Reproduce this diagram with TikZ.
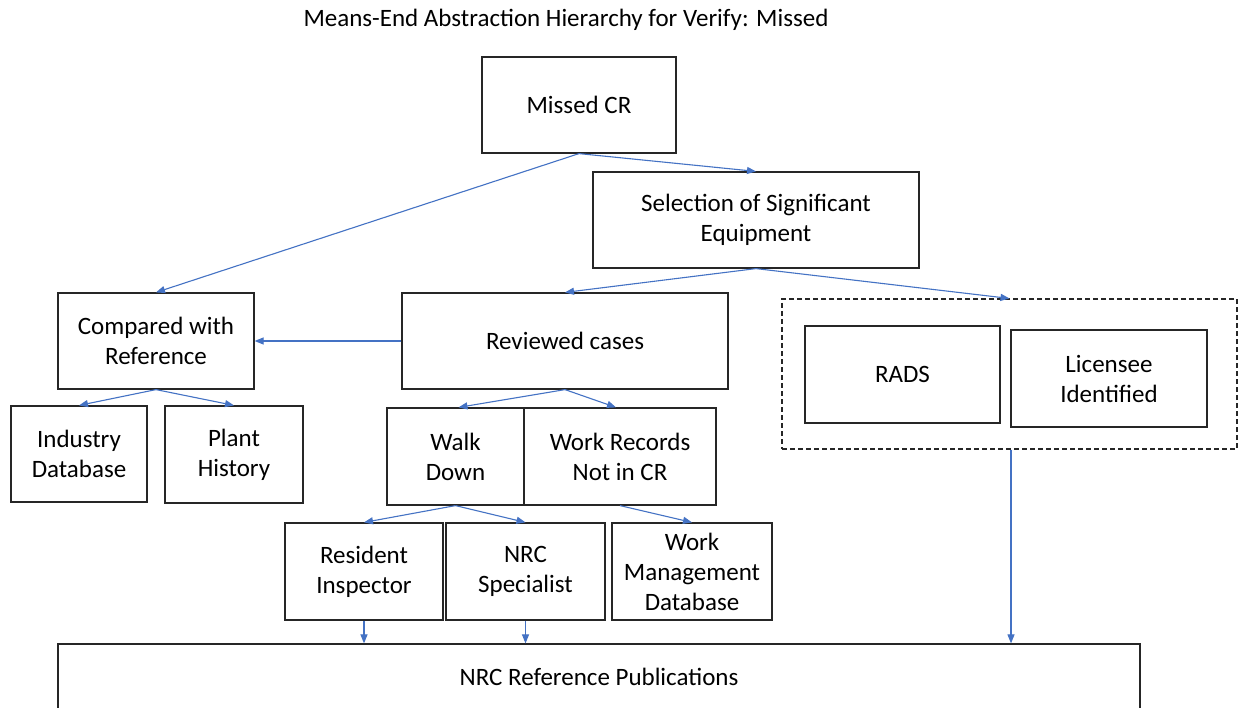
\documentclass[tikz,border=0pt]{standalone}
\usepackage{fontspec}
\setmainfont{Carlito}
\usetikzlibrary{arrows.meta}
\definecolor{linkblue}{HTML}{4472C4}
\definecolor{boxline}{HTML}{262626}
\begin{document}
\begin{tikzpicture}[x=1pt,y=-1pt,
  box/.style={draw=boxline,line width=1.2pt,align=center,inner sep=0pt,
    font=\fontsize{25}{30}\selectfont,text=black},
  link/.style={draw=linkblue,line width=1.1pt,-{Triangle[length=9pt,width=7pt]}},
  group/.style={draw=boxline,line width=1.1pt,dash pattern=on 5pt off 3pt}]
\useasboundingbox[fill=white] (0,0) rectangle (1238,708);

% title
\node[font=\fontsize{25}{30}\selectfont] (title) at (566,20) {Means-End Abstraction Hierarchy for Verify: Missed};

% top levels
\node[box,minimum width=194pt,minimum height=96pt] (missed) at (579,105) {Missed CR};
\node[box,minimum width=326pt,minimum height=96pt] (sel) at (756,220) {Selection of Significant\\Equipment};

% middle level
\node[box,minimum width=196pt,minimum height=96pt] (cmp) at (156,341) {Compared with\\Reference};
\node[box,minimum width=326pt,minimum height=96pt] (rev) at (565,341) {Reviewed cases};
\node[group,minimum width=455pt,minimum height=150pt] (grp) at (1009.5,374) {};
\node[box,minimum width=195pt,minimum height=97pt] (rads) at (902.5,374.5) {RADS};
\node[box,minimum width=196pt,minimum height=97pt] (lic) at (1109,378.5) {Licensee\\Identified};

% lower level
\node[box,minimum width=136pt,minimum height=96pt] (ind) at (79,454) {Industry\\Database};
\node[box,minimum width=138pt,minimum height=97pt] (plant) at (234,454.5) {Plant\\History};
\node[box,minimum width=137pt,minimum height=97pt] (walk) at (455.5,456.5) {Walk\\Down};
\node[box,minimum width=192pt,minimum height=97pt] (work) at (620,456.5) {Work Records\\Not in CR};

% sources
\node[box,minimum width=158pt,minimum height=97pt] (res) at (364,571.5) {Resident\\Inspector};
\node[box,minimum width=159pt,minimum height=97pt] (spec) at (525.5,571.5) {NRC\\Specialist};
\node[box,minimum width=160pt,minimum height=97pt] (wmd) at (692,571.5) {Work\\Management\\Database};

% publications
\node[box,minimum width=1082pt,minimum height=66pt] (pub) at (599,677) {NRC Reference Publications};

% connectors
\draw[link] (missed.south) -- (sel.north);
\draw[link] (missed.south) -- (cmp.north);
\draw[link] (sel.south) -- (rev.north);
\draw[link] (sel.south) -- (grp.north);
\draw[link] (rev.west) -- (cmp.east);
\draw[link] (cmp.south) -- (ind.north);
\draw[link] (cmp.south) -- (plant.north);
\draw[link] (rev.south) -- ([xshift=3pt]walk.north);
\draw[link] (rev.south) -- ([xshift=-4pt]work.north);
\draw[link] (walk.south) -- (res.north);
\draw[link] (walk.south) -- (spec.north);
\draw[link] (work.south) -- (wmd.north);
\draw[link] (res.south) -- (res.south |- pub.north);
\draw[link] (spec.south) -- (spec.south |- pub.north);
\draw[link] ([xshift=1.5pt]grp.south) -- ([xshift=1.5pt]grp.south |- pub.north);
\end{tikzpicture}
\end{document}
